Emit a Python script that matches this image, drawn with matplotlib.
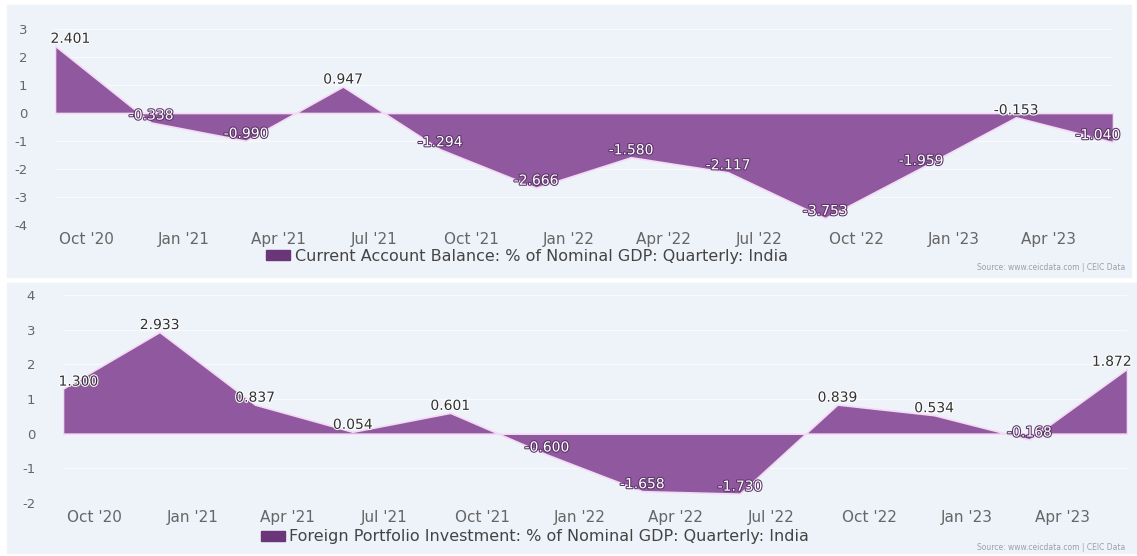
import numpy as np
import pandas as pd
import matplotlib
matplotlib.use('Agg')
import matplotlib.pyplot as plt
import matplotlib.patheffects as pe
from matplotlib.patches import Patch, Rectangle

# quarterly values, placed at the last month of each quarter
quarters = pd.date_range('2020-09-01', periods=12, freq='3MS')
cab = [2.401, -0.338, -0.990, 0.947, -1.294, -2.666, -1.580, -2.117, -3.753, -1.959, -0.153, -1.040]
fpi = [1.300, 2.933, 0.837, 0.054, 0.601, -0.600, -1.658, -1.730, 0.839, 0.534, -0.168, 1.872]

tick_dates = pd.date_range('2020-10-01', periods=11, freq='3MS')
tick_labels = ["Oct '20", "Jan '21", "Apr '21", "Jul '21", "Oct '21", "Jan '22",
               "Apr '22", "Jul '22", "Oct '22", "Jan '23", "Apr '23"]

cab_name = 'Current Account Balance: % of Nominal GDP: Quarterly: India'
fpi_name = 'Foreign Portfolio Investment: % of Nominal GDP: Quarterly: India'
source = 'Source: www.ceicdata.com | CEIC Data'

W, H = 1137, 556
BG = '#eef2f9'
FILL = '#90589f'
EDGE = '#f4daf4'


def px_axes(fig, left, top, right, bottom):
    return fig.add_axes([left / W, 1 - bottom / H, (right - left) / W, (bottom - top) / H])


def panel(fig, box, axbox, values, yticks, name, leg_x, leg_y, src_y):
    # grey-blue card behind the chart
    x0, y0, x1, y1 = box
    fig.add_artist(Rectangle((x0 / W, 1 - y1 / H), (x1 - x0) / W, (y1 - y0) / H,
                             transform=fig.transFigure, color=BG, zorder=0))
    ax = px_axes(fig, *axbox)
    ax.set_facecolor(BG)
    ax.fill_between(quarters, values, 0, color=FILL, edgecolor=EDGE, linewidth=1.2, zorder=3)
    ax.set_xlim(quarters[0], quarters[-1])
    ax.set_ylim(yticks[0], yticks[-1])
    ax.set_yticks(yticks)
    ax.set_yticklabels([('-' if t < 0 else '') + str(abs(t)) for t in yticks])
    ax.set_xticks(tick_dates)
    ax.set_xticklabels(tick_labels)
    ax.grid(axis='y', color='#f8fafd', linewidth=1)
    ax.tick_params(axis='y', length=0, pad=20, labelsize=9.5, labelcolor='#666666')
    ax.tick_params(axis='x', length=0, pad=5, labelsize=11, labelcolor='#666666')
    for s in ax.spines.values():
        s.set_visible(False)

    for i, (d, v) in enumerate(zip(quarters, values)):
        dx = 11 if i == 0 else (-11 if i == len(values) - 1 else 0)
        if v > -0.16:
            col, halo = '#333333', 'white'
        else:
            col, halo = 'white', '#5a3366'
        ax.annotate('%.3f' % v, (d, v), xytext=(dx, 5), textcoords='offset points',
                    ha='center', va='center', fontsize=10, color=col,
                    annotation_clip=False, zorder=5,
                    path_effects=[pe.withStroke(linewidth=1.5, foreground=halo)])

    leg = ax.legend(handles=[Patch(color='#6a3579', label=name)], loc='center',
                    bbox_to_anchor=(leg_x / W, 1 - leg_y / H), bbox_transform=fig.transFigure,
                    frameon=False, fontsize=11.5, handlelength=1.5, handleheight=0.55,
                    handletextpad=0.3)
    for t in leg.get_texts():
        t.set_color('#444444')
    fig.text(1125 / W, 1 - src_y / H, source, ha='right', va='center',
             fontsize=5.5, color='#9aa0aa')
    return ax


fig = plt.figure(figsize=(W / 100, H / 100), dpi=100)
fig.patch.set_facecolor('white')

panel(fig, (7, 5, 1131, 277), (55, 29, 1113, 225), cab,
      [-4, -3, -2, -1, 0, 1, 2, 3], cab_name, 527, 256, 267)
panel(fig, (7, 283, 1137, 553), (63, 295, 1127, 503), fpi,
      [-2, -1, 0, 1, 2, 3, 4], fpi_name, 535, 537, 548)

plt.savefig('out.png', dpi=100, facecolor=fig.get_facecolor())
